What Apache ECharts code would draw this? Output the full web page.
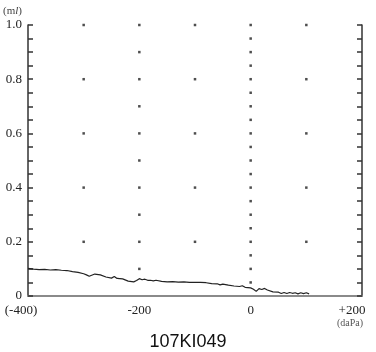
<!DOCTYPE html>
<html><head><meta charset="utf-8">
<script src="https://cdn.jsdelivr.net/npm/echarts@6/dist/echarts.min.js"></script>
<style>html,body{margin:0;padding:0;background:#fff}#c{width:376px;height:352px}</style>
</head><body><div id="c"></div>
<script>
const pressure = [-400,-390,-380,-370,-360,-350,-340,-330,-320,-310,-300,-295,-290,-280,-270,-260,-250,-245,-240,-230,-220,-210,-205,-200,-195,-190,-185,-180,-175,-170,-160,-150,-140,-130,-120,-110,-100,-90,-80,-70,-60,-55,-50,-40,-30,-20,-15,-10,0,5,10,15,20,25,30,40,50,55,60,65,70,75,80,85,90,95,100,105];
const volume = [0.102,0.099,0.097,0.098,0.096,0.097,0.095,0.094,0.090,0.087,0.082,0.078,0.073,0.081,0.078,0.070,0.066,0.072,0.065,0.063,0.055,0.052,0.057,0.064,0.060,0.062,0.058,0.058,0.056,0.058,0.054,0.052,0.053,0.051,0.052,0.050,0.050,0.050,0.049,0.046,0.045,0.041,0.044,0.040,0.037,0.035,0.038,0.032,0.030,0.025,0.017,0.027,0.024,0.028,0.022,0.015,0.014,0.009,0.013,0.009,0.013,0.010,0.012,0.008,0.012,0.009,0.012,0.008];
const xTicks = [-400,-200,0,200];
const xTickLabels = ['(-400)','-200','0','+200'];
const yTickLabels = {0:'0',0.2:'0.2',0.4:'0.4',0.6:'0.6',0.8:'0.8',1:'1.0'};
const dotColsMajor = [-300,-100,100];
const dotRowsMajor = [0.2,0.4,0.6,0.8,1.0];
const dotColTenth = -200;
const dotRowsTenth = [0.1,0.2,0.3,0.4,0.5,0.6,0.7,0.8,0.9,1.0];
const dotColZero = 0;
const dotRowsZero = [0.05,0.1,0.15,0.2,0.25,0.3,0.35,0.4,0.45,0.5,0.55,0.6,0.65,0.7,0.75,0.8,0.85,0.9,0.95,1.0];

const dots = [];
dotColsMajor.forEach(x => dotRowsMajor.forEach(y => dots.push([x,y])));
dotRowsTenth.forEach(y => dots.push([dotColTenth,y]));
dotRowsZero.forEach(y => dots.push([dotColZero,y]));

const serif = '"Liberation Serif","DejaVu Serif",serif';
const chart = echarts.init(document.getElementById('c'));
chart.setOption({
  animation:false,
  backgroundColor:'#fff',
  grid:{left:28,right:14,top:25,bottom:56},
  title:{text:'107KI049',left:'center',top:328,textStyle:{fontFamily:'"Liberation Sans",Arial,sans-serif',fontSize:18,fontWeight:'normal',color:'#111'}},
  graphic:[
    {type:'text',left:3,top:6,style:{text:'(m{i|l})',rich:{i:{fontStyle:'italic',fontFamily:serif,fontSize:11,fill:'#444'}},font:'11px '+serif,fill:'#444'}},
    {type:'text',left:337,top:318,style:{text:'(daPa)',font:'10px '+serif,fill:'#555'}}
  ],
  xAxis:{type:'value',min:-400,max:200,interval:200,
    axisLine:{show:true,onZero:false,lineStyle:{color:'#8a8a8a',width:2}},
    axisTick:{show:false},splitLine:{show:false},
    axisLabel:{margin:8,fontFamily:serif,fontSize:13,color:'#222',
      formatter:v=>{const i=xTicks.indexOf(v); if(i<0) return ''; if(v===200) return '{r|'+xTickLabels[i]+'}'; if(v===-400) return '{l|'+xTickLabels[i]+'}'; return xTickLabels[i];},
      rich:{r:{fontFamily:serif,fontSize:13,color:'#222',padding:[0,20,0,0]},l:{fontFamily:serif,fontSize:13,color:'#222',padding:[0,14,0,0]}}}},
  yAxis:[
    {type:'value',min:0,max:1,interval:0.05,position:'left',
      axisLine:{show:true,onZero:false,lineStyle:{color:'#333',width:1.5}},
      axisTick:{show:true,inside:true,length:5,lineStyle:{color:'#333',width:1.5}},
      splitLine:{show:false},
      axisLabel:{margin:6,fontFamily:serif,fontSize:13,color:'#222',
        formatter:v=>{const k=Math.round(v*100)/100; return yTickLabels[k]!==undefined?yTickLabels[k]:'';}}},
    {type:'value',min:0,max:1,interval:0.05,position:'right',
      axisLine:{show:true,onZero:false,lineStyle:{color:'#333',width:1.5}},
      axisTick:{show:true,inside:true,length:5,lineStyle:{color:'#333',width:1.5}},
      splitLine:{show:false},axisLabel:{show:false}}
  ],
  series:[
    {type:'scatter',data:dots,symbol:'rect',symbolSize:2.5,itemStyle:{color:'#222'},silent:true},
    {type:'line',data:pressure.map((x,i)=>[x,volume[i]]),showSymbol:false,lineStyle:{color:'#222',width:1.2},silent:true}
  ]
});
</script></body></html>
